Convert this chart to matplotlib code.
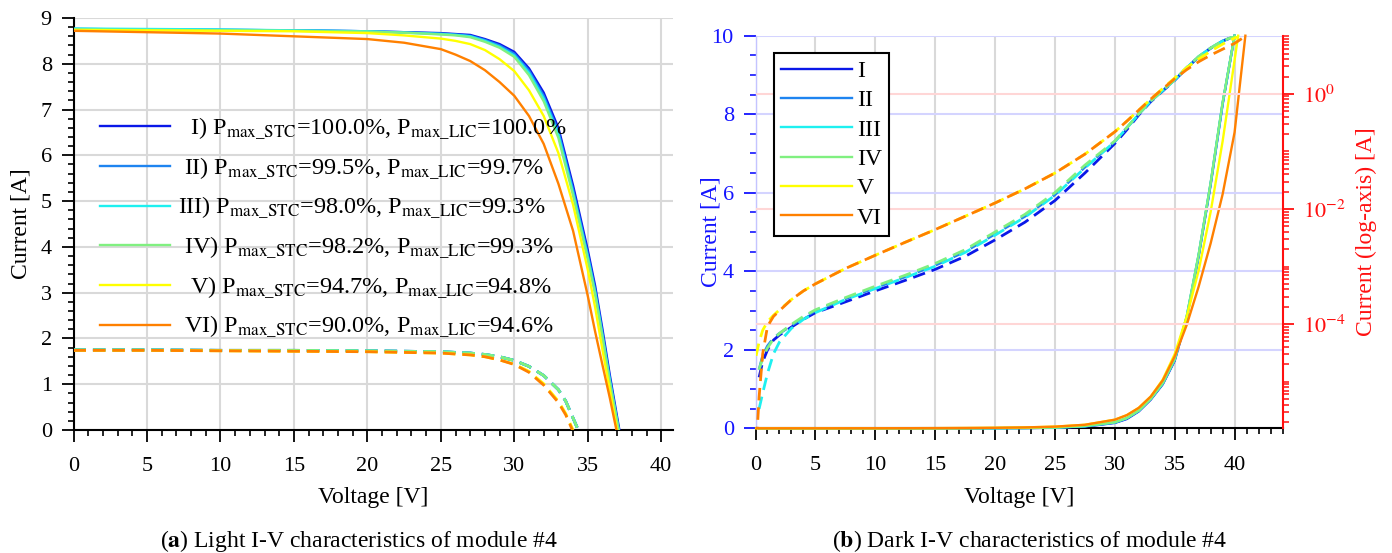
import numpy as np
import matplotlib
matplotlib.use("Agg")
import matplotlib.pyplot as plt
from matplotlib.ticker import MultipleLocator, FixedLocator, LogLocator, NullFormatter, FuncFormatter

plt.rcParams['font.family'] = ['Liberation Serif', 'DejaVu Serif']
plt.rcParams['mathtext.fontset'] = 'stix'
plt.rcParams['font.size'] = 16

module_names = ['I', 'II', 'III', 'IV', 'V', 'VI']
colors = ['#0a18e8', '#1e84f0', '#1ef0f0', '#80f080', '#ffff00', '#ff8000']

# ---- light I-V, STC (solid) ----
stc_v = [0, 5, 10, 15, 20, 22.5, 25, 26, 27, 28, 29, 30, 31, 32, 33, 34, 35, 35.5, 36, 36.5]
stc_i = {
    'I':   [8.76, 8.75, 8.74, 8.73, 8.71, 8.69, 8.67, 8.65, 8.63, 8.54, 8.43, 8.26, 7.90, 7.37, 6.60, 5.34, 3.93, 3.15, 2.20, 1.20],
    'II':  [8.76, 8.75, 8.74, 8.73, 8.71, 8.69, 8.66, 8.64, 8.61, 8.52, 8.40, 8.22, 7.85, 7.30, 6.52, 5.25, 3.84, 3.07, 2.12, 1.13],
    'III': [8.77, 8.76, 8.75, 8.73, 8.71, 8.68, 8.65, 8.63, 8.60, 8.50, 8.37, 8.18, 7.80, 7.24, 6.45, 5.18, 3.78, 3.01, 2.06, 1.08],
    'IV':  [8.75, 8.74, 8.73, 8.72, 8.70, 8.68, 8.64, 8.62, 8.58, 8.48, 8.35, 8.15, 7.75, 7.18, 6.38, 5.12, 3.72, 2.96, 2.02, 1.04],
    'V':   [8.74, 8.73, 8.72, 8.71, 8.67, 8.62, 8.55, 8.50, 8.43, 8.30, 8.10, 7.84, 7.42, 6.86, 6.05, 4.92, 3.50, 2.68, 1.75, 0.88],
    'VI':  [8.72, 8.69, 8.66, 8.60, 8.54, 8.46, 8.32, 8.20, 8.06, 7.86, 7.60, 7.30, 6.86, 6.25, 5.38, 4.35, 2.93, 2.15, 1.42, 0.70],
}
voc_stc = [37.15, 37.12, 37.10, 37.10, 37.00, 36.95]

# ---- light I-V, low irradiance (dashed) ----
lic_v = [0, 5, 10, 15, 20, 25, 27, 28, 29, 30, 31, 32, 33, 33.5]
lic_i = {
    'I':   [1.75, 1.75, 1.74, 1.74, 1.73, 1.71, 1.68, 1.65, 1.60, 1.52, 1.39, 1.19, 0.88, 0.63],
    'II':  [1.75, 1.75, 1.74, 1.74, 1.73, 1.71, 1.68, 1.65, 1.60, 1.52, 1.39, 1.19, 0.88, 0.63],
    'III': [1.75, 1.75, 1.74, 1.74, 1.73, 1.71, 1.68, 1.65, 1.60, 1.52, 1.39, 1.19, 0.88, 0.63],
    'IV':  [1.75, 1.75, 1.74, 1.74, 1.73, 1.71, 1.68, 1.65, 1.60, 1.52, 1.39, 1.19, 0.88, 0.63],
    'V':   [1.74, 1.74, 1.73, 1.72, 1.71, 1.68, 1.64, 1.60, 1.53, 1.44, 1.28, 1.01, 0.63, 0.36],
    'VI':  [1.74, 1.74, 1.73, 1.72, 1.71, 1.68, 1.64, 1.60, 1.53, 1.43, 1.26, 0.98, 0.60, 0.33],
}
voc_lic = [34.35, 34.35, 34.35, 34.35, 34.0, 33.95]

stc_labels = [
    r"  I) P$_{\mathrm{max\_STC}}$=100.0%, P$_{\mathrm{max\_LIC}}$=100.0%",
    r" II) P$_{\mathrm{max\_STC}}$=99.5%, P$_{\mathrm{max\_LIC}}$=99.7%",
    r"III) P$_{\mathrm{max\_STC}}$=98.0%, P$_{\mathrm{max\_LIC}}$=99.3%",
    r" IV) P$_{\mathrm{max\_STC}}$=98.2%, P$_{\mathrm{max\_LIC}}$=99.3%",
    r"  V) P$_{\mathrm{max\_STC}}$=94.7%, P$_{\mathrm{max\_LIC}}$=94.8%",
    r" VI) P$_{\mathrm{max\_STC}}$=90.0%, P$_{\mathrm{max\_LIC}}$=94.6%",
]

# ---- dark I-V [A] ----
dark_v = [0.3, 0.6, 1, 1.5, 2, 3, 4, 5, 7.5, 10, 12.5, 15, 17.5, 20, 22.5, 25, 27.5,
          30, 31, 32, 33, 34, 35, 36, 37, 38, 39, 40]
dark_v_5 = [0.05, 0.3, 0.6, 1, 1.5, 2, 3, 4, 5, 7.5, 10, 12.5, 15, 17.5, 20, 22.5, 25, 27.5,
            30, 31, 32, 33, 34, 35, 36, 37, 38, 39, 40.3]
dark_v_6 = [0.1, 0.3, 0.6, 1, 1.5, 2, 3, 4, 5, 7.5, 10, 12.5, 15, 17.5, 20, 22.5, 25, 27.5,
            30, 31, 32, 33, 34, 35, 36, 37, 38, 39, 40, 40.9]
dark_i = {
    'I':   [1.19e-5, 2.22e-5, 3.56e-5, 5.27e-5, 6.47e-5, 8.87e-5, 1.21e-4, 1.58e-4, 2.43e-4, 3.77e-4,
            5.75e-4, 8.93e-4, 1.50e-3, 2.90e-3, 5.90e-3, 1.40e-2, 4.21e-2,
            0.137, 0.237, 0.43, 0.73, 1.12, 1.72, 2.80, 4.38, 6.20, 8.25, 10.0],
    'II':  [1.62e-5, 2.81e-5, 4.17e-5, 5.70e-5, 6.89e-5, 9.44e-5, 1.29e-4, 1.71e-4, 2.75e-4, 4.27e-4,
            6.64e-4, 1.05e-3, 1.82e-3, 3.68e-3, 7.46e-3, 1.77e-2, 5.33e-2,
            0.148, 0.256, 0.445, 0.748, 1.14, 1.75, 2.84, 4.42, 6.24, 8.28, 10.0],
    'III': [3.37e-6, 6.33e-6, 1.39e-5, 3.04e-5, 4.88e-5, 8.45e-5, 1.21e-4, 1.58e-4, 2.67e-4, 4.14e-4,
            6.43e-4, 1.01e-3, 1.76e-3, 3.51e-3, 7.23e-3, 1.72e-2, 5.16e-2,
            0.148, 0.256, 0.445, 0.748, 1.14, 1.75, 2.84, 4.42, 6.24, 8.28, 10.0],
    'IV':  [1.62e-5, 2.60e-5, 3.85e-5, 5.53e-5, 6.89e-5, 9.89e-5, 1.36e-4, 1.77e-4, 2.88e-4, 4.55e-4,
            7.06e-4, 1.13e-3, 1.96e-3, 3.98e-3, 8.07e-3, 1.92e-2, 5.77e-2,
            0.152, 0.26, 0.45, 0.75, 1.15, 1.76, 2.85, 4.43, 6.25, 8.30, 10.0],
    'V':   [2.81e-5, 4.88e-5, 7.82e-5, 1.10e-4, 1.42e-4, 1.77e-4, 2.67e-4, 3.77e-4, 5.00e-4, 9.23e-4,
            1.57e-3, 2.64e-3, 4.38e-3, 7.46e-3, 1.27e-2, 2.24e-2, 4.21e-2, 8.95e-2,
            0.219, 0.335, 0.521, 0.809, 1.24, 1.89, 2.84, 4.02, 5.51, 7.31, 10.0],
    'VI':  [1.0e-6, 5.4e-6, 3.04e-5, 9.14e-5, 1.36e-4, 1.71e-4, 2.67e-4, 3.77e-4, 5.00e-4, 9.23e-4,
            1.57e-3, 2.64e-3, 4.38e-3, 7.46e-3, 1.27e-2, 2.24e-2, 4.21e-2, 8.95e-2,
            0.219, 0.335, 0.521, 0.809, 1.22, 1.83, 2.63, 3.61, 4.71, 5.96, 7.54, 10.0],
}
dark_volts = {'I': dark_v, 'II': dark_v, 'III': dark_v, 'IV': dark_v, 'V': dark_v_5, 'VI': dark_v_6}

GRID = '#d9d9d9'
BLUE = '#1414ff'
RED = '#ff1010'
DASH = (0, (4.5, 2.5))

fig = plt.figure(figsize=(13.92, 5.53), dpi=100)

# ================= (a) light =================
ax1 = fig.add_axes([73.5 / 1392, 123 / 553, 599.5 / 1392, 412 / 553])
handles = []
for k, name in enumerate(module_names):
    v = stc_v + [voc_stc[k]]
    i = stc_i[name] + [0]
    h, = ax1.plot(v, i, color=colors[k], lw=1.7, zorder=3)
    handles.append(h)
for k, name in enumerate(module_names):
    v = lic_v + [voc_lic[k]]
    i = lic_i[name] + [0]
    ax1.plot(v, i, color=colors[k], lw=2.0, ls=DASH, zorder=3)

ax1.set_xlim(0, 40.8)
ax1.set_ylim(0, 9)
ax1.xaxis.set_major_locator(MultipleLocator(5))
ax1.xaxis.set_minor_locator(MultipleLocator(1))
ax1.yaxis.set_major_locator(MultipleLocator(1))
ax1.yaxis.set_minor_locator(MultipleLocator(0.2))
ax1.grid(True, which='major', color=GRID, lw=1.5)
ax1.set_axisbelow(True)
for s in ['top', 'right']:
    ax1.spines[s].set_visible(False)
for s in ['left', 'bottom']:
    ax1.spines[s].set_linewidth(1.5)
ax1.tick_params(which='major', direction='out', length=8.6, width=1.3, labelsize=16)
ax1.tick_params(which='minor', direction='out', length=4.3, width=1.2)
ax1.tick_params(axis='x', which='major', pad=11)
ax1.tick_params(axis='y', which='major', pad=7)
ax1.set_xlabel('Voltage [V]', fontsize=17)
ax1.xaxis.set_label_coords(0.5, -67 / 412)
ax1.xaxis.label.set_va('center')
ax1.set_ylabel('Current [A]', fontsize=17)
ax1.yaxis.set_label_coords(-52 / 599.5, 0.5)
ax1.yaxis.label.set_va('center')

ax1.legend(handles, stc_labels, loc='upper left', bbox_to_anchor=(26.5 / 599.5, 0.762),
           frameon=False, borderpad=0, borderaxespad=0, handlelength=2.9,
           handletextpad=0.3, labelspacing=0.56, fontsize=17.5)

# ================= (b) dark =================
ax2 = fig.add_axes([755.5 / 1392, 124.7 / 553, 527 / 1392, 392.6 / 553])
ax3 = ax2.twinx()

dark_handles = []
for k, name in enumerate(module_names):
    h, = ax2.plot(dark_volts[name], dark_i[name], color=colors[k], lw=1.7, zorder=3,
                  clip_on=False)
    dark_handles.append(h)
for k, name in enumerate(module_names):
    ax3.plot(dark_volts[name], dark_i[name], color=colors[k], lw=2.0, ls=DASH, zorder=3)

ax2.set_xlim(0, 44)
ax2.set_ylim(0, 10)
ax2.xaxis.set_major_locator(MultipleLocator(5))
ax2.xaxis.set_minor_locator(MultipleLocator(1))
ax2.yaxis.set_major_locator(MultipleLocator(2))
ax2.yaxis.set_minor_locator(MultipleLocator(0.5))
ax2.grid(True, axis='x', which='major', color=GRID, lw=1.5)
ax2.grid(True, axis='y', which='major', color='#d4d4ff', lw=1.5)
ax2.set_axisbelow(True)
ax2.spines['top'].set_visible(False)
ax2.spines['right'].set_visible(False)
ax2.spines['left'].set_color('#c4c4ff')
ax2.spines['left'].set_linewidth(1.0)
ax2.spines['bottom'].set_linewidth(1.5)
ax2.tick_params(which='major', direction='out', length=8.6, width=1.3, labelsize=16)
ax2.tick_params(which='minor', direction='out', length=4.3, width=1.2)
ax2.tick_params(axis='x', which='major', pad=11)
ax2.tick_params(axis='y', which='both', colors=BLUE)
ax2.tick_params(axis='y', which='major', pad=7)
ax2.set_xlabel('Voltage [V]', fontsize=17)
ax2.xaxis.set_label_coords(0.5, -68.7 / 392.6)
ax2.xaxis.label.set_va('center')
ax2.set_ylabel('Current [A]', fontsize=17, color=BLUE)
ax2.yaxis.set_label_coords(-44.5 / 527, 0.5)
ax2.yaxis.label.set_va('center')

ax3.set_yscale('log')
ax3.set_ylim(10 ** -5.81, 10 ** 1.01)
ax3.yaxis.set_major_locator(FixedLocator([1e-4, 1e-2, 1e0]))
ax3.yaxis.set_major_formatter(FuncFormatter(lambda val, pos: r'$10^{%d}$' % round(np.log10(val))))
ax3.yaxis.set_minor_locator(LogLocator(base=10, subs=np.arange(1, 10), numticks=30))
ax3.yaxis.set_minor_formatter(NullFormatter())
ax3.grid(True, axis='y', which='major', color='#ffd6d6', lw=1.5)
for s in ['top', 'left', 'bottom']:
    ax3.spines[s].set_visible(False)
ax3.spines['right'].set_color(RED)
ax3.spines['right'].set_linewidth(1.5)
ax3.tick_params(axis='y', which='major', direction='out', length=8, width=1.3,
                colors=RED, labelsize=16, pad=7)
ax3.tick_params(axis='y', which='minor', direction='out', length=4, width=1.1, colors=RED)
ax3.set_ylabel('Current (log-axis) [A]', fontsize=17, color=RED, rotation=90)
ax3.yaxis.set_label_coords(611 / 527, 0.5)
ax3.yaxis.label.set_va('center')

leg = ax3.legend(dark_handles, module_names, loc='upper left', bbox_to_anchor=(18.5 / 527, 0.955),
                 frameon=True, fancybox=False, edgecolor='black', framealpha=1,
                 borderpad=0.3, borderaxespad=0, handlelength=3.0, handletextpad=0.2,
                 labelspacing=0.33, fontsize=17)
leg.get_frame().set_linewidth(1.5)

fig.text(359 / 1392, 1 - 541 / 553, r'($\mathbf{a}$) Light I-V characteristics of module #4',
         ha='center', va='center', fontsize=17)
fig.text(1030 / 1392, 1 - 541 / 553, r'($\mathbf{b}$) Dark I-V characteristics of module #4',
         ha='center', va='center', fontsize=17)

fig.savefig('out.png', dpi=100)
